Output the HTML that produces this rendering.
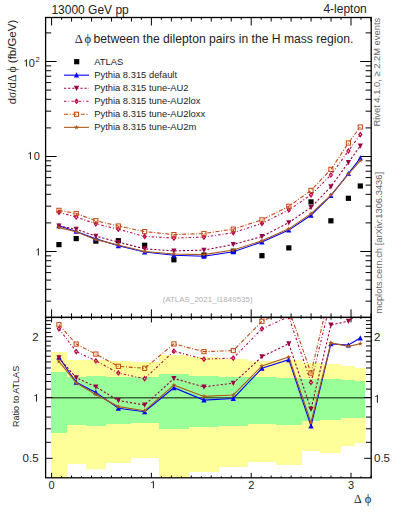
<!DOCTYPE html>
<html><head><meta charset="utf-8"><style>
html,body{margin:0;padding:0;background:#fff;width:393px;height:512px;overflow:hidden}
svg{font-family:"Liberation Sans",sans-serif} text{fill:#222} text.g{fill:#666} text.lg{fill:#b0b0b0}
</style></head><body>
<svg width="393" height="512" viewBox="0 0 393 512" style="position:absolute;left:0;top:0"><defs><clipPath id="cu"><rect x="45.6" y="17.5" width="325.59999999999997" height="299.9"/></clipPath><clipPath id="cr"><rect x="45.6" y="317.4" width="325.59999999999997" height="160.40000000000003"/></clipPath></defs><g clip-path="url(#cr)" shape-rendering="crispEdges"><rect x="51.20" y="352.20" width="15.50" height="137.80" fill="#ffff9a"/><rect x="66.70" y="359.80" width="19.00" height="103.80" fill="#ffff9a"/><rect x="85.70" y="359.80" width="20.30" height="109.10" fill="#ffff9a"/><rect x="106.00" y="360.60" width="24.70" height="101.90" fill="#ffff9a"/><rect x="130.70" y="362.00" width="27.90" height="95.90" fill="#ffff9a"/><rect x="158.60" y="355.30" width="30.60" height="134.70" fill="#ffff9a"/><rect x="189.20" y="357.30" width="29.50" height="114.70" fill="#ffff9a"/><rect x="218.70" y="358.70" width="29.20" height="108.40" fill="#ffff9a"/><rect x="247.90" y="361.20" width="28.10" height="100.90" fill="#ffff9a"/><rect x="276.00" y="360.40" width="25.60" height="104.80" fill="#ffff9a"/><rect x="301.60" y="363.40" width="18.80" height="87.60" fill="#ffff9a"/><rect x="320.40" y="364.00" width="21.00" height="88.70" fill="#ffff9a"/><rect x="341.40" y="366.40" width="14.00" height="79.20" fill="#ffff9a"/><rect x="355.40" y="368.00" width="9.80" height="74.50" fill="#ffff9a"/><rect x="51.20" y="372.00" width="15.50" height="61.40" fill="#99ff99"/><rect x="66.70" y="377.00" width="19.00" height="47.90" fill="#99ff99"/><rect x="85.70" y="376.30" width="20.30" height="49.70" fill="#99ff99"/><rect x="106.00" y="377.30" width="24.70" height="46.70" fill="#99ff99"/><rect x="130.70" y="377.30" width="27.90" height="45.70" fill="#99ff99"/><rect x="158.60" y="374.20" width="30.60" height="55.00" fill="#99ff99"/><rect x="189.20" y="375.60" width="29.50" height="51.60" fill="#99ff99"/><rect x="218.70" y="376.70" width="29.20" height="49.00" fill="#99ff99"/><rect x="247.90" y="376.70" width="28.10" height="47.40" fill="#99ff99"/><rect x="276.00" y="377.70" width="25.60" height="47.00" fill="#99ff99"/><rect x="301.60" y="379.00" width="18.80" height="41.80" fill="#99ff99"/><rect x="320.40" y="379.30" width="21.00" height="40.50" fill="#99ff99"/><rect x="341.40" y="380.40" width="14.00" height="37.90" fill="#99ff99"/><rect x="355.40" y="381.10" width="9.80" height="36.40" fill="#99ff99"/></g><line x1="45.6" y1="397.8" x2="371.2" y2="397.8" stroke="#000" stroke-opacity="0.6" stroke-width="1.4"/><path d="M51.60,17.50L51.60,25.50M51.60,317.40L51.60,309.40M51.60,317.40L51.60,322.40M51.60,477.80L51.60,472.80M61.58,17.50L61.58,19.80M61.58,317.40L61.58,315.10M61.58,317.40L61.58,318.90M61.58,477.80L61.58,476.30M71.56,17.50L71.56,21.50M71.56,317.40L71.56,313.40M71.56,317.40L71.56,319.70M71.56,477.80L71.56,475.50M81.54,17.50L81.54,19.80M81.54,317.40L81.54,315.10M81.54,317.40L81.54,318.90M81.54,477.80L81.54,476.30M91.52,17.50L91.52,21.50M91.52,317.40L91.52,313.40M91.52,317.40L91.52,319.70M91.52,477.80L91.52,475.50M101.50,17.50L101.50,19.80M101.50,317.40L101.50,315.10M101.50,317.40L101.50,318.90M101.50,477.80L101.50,476.30M111.48,17.50L111.48,21.50M111.48,317.40L111.48,313.40M111.48,317.40L111.48,319.70M111.48,477.80L111.48,475.50M121.46,17.50L121.46,19.80M121.46,317.40L121.46,315.10M121.46,317.40L121.46,318.90M121.46,477.80L121.46,476.30M131.44,17.50L131.44,21.50M131.44,317.40L131.44,313.40M131.44,317.40L131.44,319.70M131.44,477.80L131.44,475.50M141.42,17.50L141.42,19.80M141.42,317.40L141.42,315.10M141.42,317.40L141.42,318.90M141.42,477.80L141.42,476.30M151.40,17.50L151.40,25.50M151.40,317.40L151.40,309.40M151.40,317.40L151.40,322.40M151.40,477.80L151.40,472.80M161.38,17.50L161.38,19.80M161.38,317.40L161.38,315.10M161.38,317.40L161.38,318.90M161.38,477.80L161.38,476.30M171.36,17.50L171.36,21.50M171.36,317.40L171.36,313.40M171.36,317.40L171.36,319.70M171.36,477.80L171.36,475.50M181.34,17.50L181.34,19.80M181.34,317.40L181.34,315.10M181.34,317.40L181.34,318.90M181.34,477.80L181.34,476.30M191.32,17.50L191.32,21.50M191.32,317.40L191.32,313.40M191.32,317.40L191.32,319.70M191.32,477.80L191.32,475.50M201.30,17.50L201.30,19.80M201.30,317.40L201.30,315.10M201.30,317.40L201.30,318.90M201.30,477.80L201.30,476.30M211.28,17.50L211.28,21.50M211.28,317.40L211.28,313.40M211.28,317.40L211.28,319.70M211.28,477.80L211.28,475.50M221.26,17.50L221.26,19.80M221.26,317.40L221.26,315.10M221.26,317.40L221.26,318.90M221.26,477.80L221.26,476.30M231.24,17.50L231.24,21.50M231.24,317.40L231.24,313.40M231.24,317.40L231.24,319.70M231.24,477.80L231.24,475.50M241.22,17.50L241.22,19.80M241.22,317.40L241.22,315.10M241.22,317.40L241.22,318.90M241.22,477.80L241.22,476.30M251.20,17.50L251.20,25.50M251.20,317.40L251.20,309.40M251.20,317.40L251.20,322.40M251.20,477.80L251.20,472.80M261.18,17.50L261.18,19.80M261.18,317.40L261.18,315.10M261.18,317.40L261.18,318.90M261.18,477.80L261.18,476.30M271.16,17.50L271.16,21.50M271.16,317.40L271.16,313.40M271.16,317.40L271.16,319.70M271.16,477.80L271.16,475.50M281.14,17.50L281.14,19.80M281.14,317.40L281.14,315.10M281.14,317.40L281.14,318.90M281.14,477.80L281.14,476.30M291.12,17.50L291.12,21.50M291.12,317.40L291.12,313.40M291.12,317.40L291.12,319.70M291.12,477.80L291.12,475.50M301.10,17.50L301.10,19.80M301.10,317.40L301.10,315.10M301.10,317.40L301.10,318.90M301.10,477.80L301.10,476.30M311.08,17.50L311.08,21.50M311.08,317.40L311.08,313.40M311.08,317.40L311.08,319.70M311.08,477.80L311.08,475.50M321.06,17.50L321.06,19.80M321.06,317.40L321.06,315.10M321.06,317.40L321.06,318.90M321.06,477.80L321.06,476.30M331.04,17.50L331.04,21.50M331.04,317.40L331.04,313.40M331.04,317.40L331.04,319.70M331.04,477.80L331.04,475.50M341.02,17.50L341.02,19.80M341.02,317.40L341.02,315.10M341.02,317.40L341.02,318.90M341.02,477.80L341.02,476.30M351.00,17.50L351.00,25.50M351.00,317.40L351.00,309.40M351.00,317.40L351.00,322.40M351.00,477.80L351.00,472.80M360.98,17.50L360.98,19.80M360.98,317.40L360.98,315.10M360.98,317.40L360.98,318.90M360.98,477.80L360.98,476.30M370.96,17.50L370.96,21.50M370.96,317.40L370.96,313.40M370.96,317.40L370.96,319.70M370.96,477.80L370.96,475.50M45.60,301.17L51.20,301.17M371.20,301.17L365.60,301.17M45.60,289.30L51.20,289.30M371.20,289.30L365.60,289.30M45.60,280.10L51.20,280.10M371.20,280.10L365.60,280.10M45.60,272.58L51.20,272.58M371.20,272.58L365.60,272.58M45.60,266.22L51.20,266.22M371.20,266.22L365.60,266.22M45.60,260.71L51.20,260.71M371.20,260.71L365.60,260.71M45.60,255.85L51.20,255.85M371.20,255.85L365.60,255.85M45.60,251.50L56.60,251.50M371.20,251.50L360.20,251.50M45.60,222.90L51.20,222.90M371.20,222.90L365.60,222.90M45.60,206.17L51.20,206.17M371.20,206.17L365.60,206.17M45.60,194.30L51.20,194.30M371.20,194.30L365.60,194.30M45.60,185.10L51.20,185.10M371.20,185.10L365.60,185.10M45.60,177.58L51.20,177.58M371.20,177.58L365.60,177.58M45.60,171.22L51.20,171.22M371.20,171.22L365.60,171.22M45.60,165.71L51.20,165.71M371.20,165.71L365.60,165.71M45.60,160.85L51.20,160.85M371.20,160.85L365.60,160.85M45.60,156.50L56.60,156.50M371.20,156.50L360.20,156.50M45.60,127.90L51.20,127.90M371.20,127.90L365.60,127.90M45.60,111.17L51.20,111.17M371.20,111.17L365.60,111.17M45.60,99.30L51.20,99.30M371.20,99.30L365.60,99.30M45.60,90.10L51.20,90.10M371.20,90.10L365.60,90.10M45.60,82.58L51.20,82.58M371.20,82.58L365.60,82.58M45.60,76.22L51.20,76.22M371.20,76.22L365.60,76.22M45.60,70.71L51.20,70.71M371.20,70.71L365.60,70.71M45.60,65.85L51.20,65.85M371.20,65.85L365.60,65.85M45.60,61.50L56.60,61.50M371.20,61.50L360.20,61.50M45.60,32.90L51.20,32.90M371.20,32.90L365.60,32.90M45.60,458.31L52.60,458.31M371.20,458.31L364.20,458.31M45.60,442.31L50.90,442.31M371.20,442.31L365.90,442.31M45.60,428.79L50.90,428.79M371.20,428.79L365.90,428.79M45.60,417.08L50.90,417.08M371.20,417.08L365.90,417.08M45.60,406.74L50.90,406.74M371.20,406.74L365.90,406.74M45.60,397.50L52.60,397.50M371.20,397.50L364.20,397.50M45.60,389.14L50.90,389.14M371.20,389.14L365.90,389.14M45.60,381.51L50.90,381.51M371.20,381.51L365.90,381.51M45.60,374.48L50.90,374.48M371.20,374.48L365.90,374.48M45.60,367.98L50.90,367.98M371.20,367.98L365.90,367.98M45.60,361.93L50.90,361.93M371.20,361.93L365.90,361.93M45.60,356.27L50.90,356.27M371.20,356.27L365.90,356.27M45.60,350.95L50.90,350.95M371.20,350.95L365.90,350.95M45.60,345.93L50.90,345.93M371.20,345.93L365.90,345.93M45.60,341.19L50.90,341.19M371.20,341.19L365.90,341.19M45.60,336.69L52.60,336.69M371.20,336.69L364.20,336.69M45.60,332.41L50.90,332.41M371.20,332.41L365.90,332.41M45.60,328.33L50.90,328.33M371.20,328.33L365.90,328.33M45.60,324.43L50.90,324.43M371.20,324.43L365.90,324.43M45.60,320.70L50.90,320.70M371.20,320.70L365.90,320.70" stroke="#000" stroke-width="1" fill="none"/><g clip-path="url(#cu)"><rect x="56.35" y="242.00" width="5.2" height="5.2" fill="#000"/><rect x="73.60" y="236.00" width="5.2" height="5.2" fill="#000"/><rect x="93.25" y="238.50" width="5.2" height="5.2" fill="#000"/><rect x="115.75" y="238.10" width="5.2" height="5.2" fill="#000"/><rect x="142.05" y="242.70" width="5.2" height="5.2" fill="#000"/><rect x="171.30" y="257.20" width="5.2" height="5.2" fill="#000"/><rect x="201.35" y="252.50" width="5.2" height="5.2" fill="#000"/><rect x="230.70" y="248.60" width="5.2" height="5.2" fill="#000"/><rect x="259.35" y="253.10" width="5.2" height="5.2" fill="#000"/><rect x="286.20" y="245.30" width="5.2" height="5.2" fill="#000"/><rect x="308.40" y="199.30" width="5.2" height="5.2" fill="#000"/><rect x="328.30" y="218.20" width="5.2" height="5.2" fill="#000"/><rect x="345.80" y="195.70" width="5.2" height="5.2" fill="#000"/><rect x="357.70" y="183.40" width="5.2" height="5.2" fill="#000"/><path d="M58.95,225.69L76.20,231.40L95.85,238.70L118.35,245.73L144.65,251.98L173.90,255.19L203.95,256.32L233.30,251.67L261.95,241.97L288.80,230.12L311.00,215.30L330.90,195.59L348.40,173.61L360.30,158.06" fill="none" stroke="#0000ff" stroke-width="1.1" stroke-dasharray="none"/><path d="M58.95,222.83L61.55,228.16L56.35,228.16Z" fill="#0000ff"/><path d="M76.20,228.54L78.80,233.87L73.60,233.87Z" fill="#0000ff"/><path d="M95.85,235.84L98.45,241.17L93.25,241.17Z" fill="#0000ff"/><path d="M118.35,242.87L120.95,248.20L115.75,248.20Z" fill="#0000ff"/><path d="M144.65,249.12L147.25,254.45L142.05,254.45Z" fill="#0000ff"/><path d="M173.90,252.33L176.50,257.66L171.30,257.66Z" fill="#0000ff"/><path d="M203.95,253.46L206.55,258.79L201.35,258.79Z" fill="#0000ff"/><path d="M233.30,248.81L235.90,254.14L230.70,254.14Z" fill="#0000ff"/><path d="M261.95,239.11L264.55,244.44L259.35,244.44Z" fill="#0000ff"/><path d="M288.80,227.26L291.40,232.59L286.20,232.59Z" fill="#0000ff"/><path d="M311.00,212.44L313.60,217.77L308.40,217.77Z" fill="#0000ff"/><path d="M330.90,192.73L333.50,198.06L328.30,198.06Z" fill="#0000ff"/><path d="M348.40,170.75L351.00,176.08L345.80,176.08Z" fill="#0000ff"/><path d="M360.30,155.20L362.90,160.53L357.70,160.53Z" fill="#0000ff"/><path d="M58.95,225.88L76.20,229.29L95.85,236.11L118.35,242.11L144.65,248.83L173.90,250.86L203.95,250.11L233.30,244.47L261.95,236.51L288.80,222.60L311.00,207.40L330.90,186.70L348.40,162.42L360.30,146.00" fill="none" stroke="#990044" stroke-width="1.1" stroke-dasharray="2.2,1.9"/><path d="M58.95,228.74L61.55,223.41L56.35,223.41Z" fill="#990044"/><path d="M76.20,232.15L78.80,226.82L73.60,226.82Z" fill="#990044"/><path d="M95.85,238.97L98.45,233.64L93.25,233.64Z" fill="#990044"/><path d="M118.35,244.97L120.95,239.64L115.75,239.64Z" fill="#990044"/><path d="M144.65,251.69L147.25,246.36L142.05,246.36Z" fill="#990044"/><path d="M173.90,253.72L176.50,248.39L171.30,248.39Z" fill="#990044"/><path d="M203.95,252.97L206.55,247.64L201.35,247.64Z" fill="#990044"/><path d="M233.30,247.33L235.90,242.00L230.70,242.00Z" fill="#990044"/><path d="M261.95,239.37L264.55,234.04L259.35,234.04Z" fill="#990044"/><path d="M288.80,225.46L291.40,220.13L286.20,220.13Z" fill="#990044"/><path d="M311.00,210.26L313.60,204.93L308.40,204.93Z" fill="#990044"/><path d="M330.90,189.56L333.50,184.23L328.30,184.23Z" fill="#990044"/><path d="M348.40,165.28L351.00,159.95L345.80,159.95Z" fill="#990044"/><path d="M360.30,148.86L362.90,143.53L357.70,143.53Z" fill="#990044"/><path d="M58.95,212.29L76.20,217.01L95.85,223.84L118.35,229.18L144.65,236.46L173.90,238.03L203.95,237.09L233.30,232.67L261.95,223.39L288.80,209.90L311.00,194.85L330.90,175.00L348.40,151.00L360.30,134.60" fill="none" stroke="#bb0848" stroke-width="1.1" stroke-dasharray="2.4,2,0.9,2.1"/><path d="M58.95,210.24L60.45,212.29L58.95,214.34L57.45,212.29Z" fill="none" stroke="#bb0848" stroke-width="1.25"/><path d="M76.20,214.96L77.70,217.01L76.20,219.06L74.70,217.01Z" fill="none" stroke="#bb0848" stroke-width="1.25"/><path d="M95.85,221.79L97.35,223.84L95.85,225.89L94.35,223.84Z" fill="none" stroke="#bb0848" stroke-width="1.25"/><path d="M118.35,227.13L119.85,229.18L118.35,231.23L116.85,229.18Z" fill="none" stroke="#bb0848" stroke-width="1.25"/><path d="M144.65,234.41L146.15,236.46L144.65,238.51L143.15,236.46Z" fill="none" stroke="#bb0848" stroke-width="1.25"/><path d="M173.90,235.98L175.40,238.03L173.90,240.08L172.40,238.03Z" fill="none" stroke="#bb0848" stroke-width="1.25"/><path d="M203.95,235.04L205.45,237.09L203.95,239.14L202.45,237.09Z" fill="none" stroke="#bb0848" stroke-width="1.25"/><path d="M233.30,230.62L234.80,232.67L233.30,234.72L231.80,232.67Z" fill="none" stroke="#bb0848" stroke-width="1.25"/><path d="M261.95,221.34L263.45,223.39L261.95,225.44L260.45,223.39Z" fill="none" stroke="#bb0848" stroke-width="1.25"/><path d="M288.80,207.85L290.30,209.90L288.80,211.95L287.30,209.90Z" fill="none" stroke="#bb0848" stroke-width="1.25"/><path d="M311.00,192.80L312.50,194.85L311.00,196.90L309.50,194.85Z" fill="none" stroke="#bb0848" stroke-width="1.25"/><path d="M330.90,172.95L332.40,175.00L330.90,177.05L329.40,175.00Z" fill="none" stroke="#bb0848" stroke-width="1.25"/><path d="M348.40,148.95L349.90,151.00L348.40,153.05L346.90,151.00Z" fill="none" stroke="#bb0848" stroke-width="1.25"/><path d="M360.30,132.55L361.80,134.60L360.30,136.65L358.80,134.60Z" fill="none" stroke="#bb0848" stroke-width="1.25"/><path d="M58.95,210.36L76.20,213.49L95.85,220.69L118.35,226.03L144.65,231.57L173.90,234.59L203.95,233.51L233.30,229.14L261.95,219.86L288.80,206.30L311.00,190.42L330.90,169.40L348.40,143.00L360.30,127.00" fill="none" stroke="#c44a12" stroke-width="1.1" stroke-dasharray="4,1.7,1,1.7"/><rect x="56.85" y="208.26" width="4.20" height="4.20" fill="none" stroke="#c44a12" stroke-width="1"/><rect x="74.10" y="211.39" width="4.20" height="4.20" fill="none" stroke="#c44a12" stroke-width="1"/><rect x="93.75" y="218.59" width="4.20" height="4.20" fill="none" stroke="#c44a12" stroke-width="1"/><rect x="116.25" y="223.93" width="4.20" height="4.20" fill="none" stroke="#c44a12" stroke-width="1"/><rect x="142.55" y="229.47" width="4.20" height="4.20" fill="none" stroke="#c44a12" stroke-width="1"/><rect x="171.80" y="232.49" width="4.20" height="4.20" fill="none" stroke="#c44a12" stroke-width="1"/><rect x="201.85" y="231.41" width="4.20" height="4.20" fill="none" stroke="#c44a12" stroke-width="1"/><rect x="231.20" y="227.04" width="4.20" height="4.20" fill="none" stroke="#c44a12" stroke-width="1"/><rect x="259.85" y="217.76" width="4.20" height="4.20" fill="none" stroke="#c44a12" stroke-width="1"/><rect x="286.70" y="204.20" width="4.20" height="4.20" fill="none" stroke="#c44a12" stroke-width="1"/><rect x="308.90" y="188.32" width="4.20" height="4.20" fill="none" stroke="#c44a12" stroke-width="1"/><rect x="328.80" y="167.30" width="4.20" height="4.20" fill="none" stroke="#c44a12" stroke-width="1"/><rect x="346.30" y="140.90" width="4.20" height="4.20" fill="none" stroke="#c44a12" stroke-width="1"/><rect x="358.20" y="124.90" width="4.20" height="4.20" fill="none" stroke="#c44a12" stroke-width="1"/><path d="M58.95,227.62L76.20,231.69L95.85,239.64L118.35,244.98L144.65,251.51L173.90,254.02L203.95,254.58L233.30,250.02L261.95,240.84L288.80,228.85L311.00,213.66L330.90,195.12L348.40,174.27L360.30,160.70" fill="none" stroke="#aa5a18" stroke-width="1.1" stroke-dasharray="none"/><path d="M58.95,225.02L59.56,226.78L61.42,226.82L59.94,227.94L60.48,229.73L58.95,228.66L57.42,229.73L57.96,227.94L56.48,226.82L58.34,226.78Z" fill="#aa5a18"/><path d="M76.20,229.09L76.81,230.85L78.67,230.88L77.19,232.01L77.73,233.79L76.20,232.73L74.67,233.79L75.21,232.01L73.73,230.88L75.59,230.85Z" fill="#aa5a18"/><path d="M95.85,237.04L96.46,238.80L98.32,238.84L96.84,239.96L97.38,241.75L95.85,240.68L94.32,241.75L94.86,239.96L93.38,238.84L95.24,238.80Z" fill="#aa5a18"/><path d="M118.35,242.38L118.96,244.14L120.82,244.18L119.34,245.30L119.88,247.08L118.35,246.02L116.82,247.08L117.36,245.30L115.88,244.18L117.74,244.14Z" fill="#aa5a18"/><path d="M144.65,248.91L145.26,250.67L147.12,250.70L145.64,251.83L146.18,253.61L144.65,252.55L143.12,253.61L143.66,251.83L142.18,250.70L144.04,250.67Z" fill="#aa5a18"/><path d="M173.90,251.42L174.51,253.17L176.37,253.21L174.89,254.34L175.43,256.12L173.90,255.06L172.37,256.12L172.91,254.34L171.43,253.21L173.29,253.17Z" fill="#aa5a18"/><path d="M203.95,251.98L204.56,253.74L206.42,253.78L204.94,254.90L205.48,256.69L203.95,255.62L202.42,256.69L202.96,254.90L201.48,253.78L203.34,253.74Z" fill="#aa5a18"/><path d="M233.30,247.42L233.91,249.18L235.77,249.22L234.29,250.35L234.83,252.13L233.30,251.06L231.77,252.13L232.31,250.35L230.83,249.22L232.69,249.18Z" fill="#aa5a18"/><path d="M261.95,238.24L262.56,240.00L264.42,240.04L262.94,241.16L263.48,242.94L261.95,241.88L260.42,242.94L260.96,241.16L259.48,240.04L261.34,240.00Z" fill="#aa5a18"/><path d="M288.80,226.25L289.41,228.01L291.27,228.05L289.79,229.17L290.33,230.96L288.80,229.89L287.27,230.96L287.81,229.17L286.33,228.05L288.19,228.01Z" fill="#aa5a18"/><path d="M311.00,211.06L311.61,212.82L313.47,212.85L311.99,213.98L312.53,215.76L311.00,214.70L309.47,215.76L310.01,213.98L308.53,212.85L310.39,212.82Z" fill="#aa5a18"/><path d="M330.90,192.52L331.51,194.28L333.37,194.32L331.89,195.44L332.43,197.23L330.90,196.16L329.37,197.23L329.91,195.44L328.43,194.32L330.29,194.28Z" fill="#aa5a18"/><path d="M348.40,171.67L349.01,173.43L350.87,173.46L349.39,174.59L349.93,176.37L348.40,175.31L346.87,176.37L347.41,174.59L345.93,173.46L347.79,173.43Z" fill="#aa5a18"/><path d="M360.30,158.10L360.91,159.86L362.77,159.89L361.29,161.02L361.83,162.80L360.30,161.74L358.77,162.80L359.31,161.02L357.83,159.89L359.69,159.86Z" fill="#aa5a18"/></g><g clip-path="url(#cr)"><path d="M58.95,357.30L76.20,382.20L95.85,392.40L118.35,408.20L144.65,411.70L173.90,387.70L203.95,400.10L233.30,398.50L261.95,368.30L288.80,359.70L311.00,426.00L330.90,343.90L348.40,345.00L360.30,338.10" fill="none" stroke="#0000ff" stroke-width="1.1" stroke-dasharray="none"/><path d="M58.95,354.44L61.55,359.77L56.35,359.77Z" fill="#0000ff"/><path d="M76.20,379.34L78.80,384.67L73.60,384.67Z" fill="#0000ff"/><path d="M95.85,389.54L98.45,394.87L93.25,394.87Z" fill="#0000ff"/><path d="M118.35,405.34L120.95,410.67L115.75,410.67Z" fill="#0000ff"/><path d="M144.65,408.84L147.25,414.17L142.05,414.17Z" fill="#0000ff"/><path d="M173.90,384.84L176.50,390.17L171.30,390.17Z" fill="#0000ff"/><path d="M203.95,397.24L206.55,402.57L201.35,402.57Z" fill="#0000ff"/><path d="M233.30,395.64L235.90,400.97L230.70,400.97Z" fill="#0000ff"/><path d="M261.95,365.44L264.55,370.77L259.35,370.77Z" fill="#0000ff"/><path d="M288.80,356.84L291.40,362.17L286.20,362.17Z" fill="#0000ff"/><path d="M311.00,423.14L313.60,428.47L308.40,428.47Z" fill="#0000ff"/><path d="M330.90,341.04L333.50,346.37L328.30,346.37Z" fill="#0000ff"/><path d="M348.40,342.14L351.00,347.47L345.80,347.47Z" fill="#0000ff"/><path d="M360.30,335.24L362.90,340.57L357.70,340.57Z" fill="#0000ff"/><path d="M58.95,357.70L76.20,377.70L95.85,386.90L118.35,400.50L144.65,405.00L173.90,378.50L203.95,386.90L233.30,383.20L261.95,356.70L288.80,343.70L311.00,409.20L330.90,325.00L348.40,321.20L360.30,312.45" fill="none" stroke="#990044" stroke-width="1.1" stroke-dasharray="2.2,1.9"/><path d="M58.95,360.56L61.55,355.23L56.35,355.23Z" fill="#990044"/><path d="M76.20,380.56L78.80,375.23L73.60,375.23Z" fill="#990044"/><path d="M95.85,389.76L98.45,384.43L93.25,384.43Z" fill="#990044"/><path d="M118.35,403.36L120.95,398.03L115.75,398.03Z" fill="#990044"/><path d="M144.65,407.86L147.25,402.53L142.05,402.53Z" fill="#990044"/><path d="M173.90,381.36L176.50,376.03L171.30,376.03Z" fill="#990044"/><path d="M203.95,389.76L206.55,384.43L201.35,384.43Z" fill="#990044"/><path d="M233.30,386.06L235.90,380.73L230.70,380.73Z" fill="#990044"/><path d="M261.95,359.56L264.55,354.23L259.35,354.23Z" fill="#990044"/><path d="M288.80,346.56L291.40,341.23L286.20,341.23Z" fill="#990044"/><path d="M311.00,412.06L313.60,406.73L308.40,406.73Z" fill="#990044"/><path d="M330.90,327.86L333.50,322.53L328.30,322.53Z" fill="#990044"/><path d="M348.40,324.06L351.00,318.73L345.80,318.73Z" fill="#990044"/><path d="M360.30,315.31L362.90,309.98L357.70,309.98Z" fill="#990044"/><path d="M58.95,328.80L76.20,351.60L95.85,360.80L118.35,373.00L144.65,378.70L173.90,351.20L203.95,359.20L233.30,358.10L261.95,328.80L288.80,316.70L311.00,382.50L330.90,300.11L348.40,296.93L360.30,288.21" fill="none" stroke="#bb0848" stroke-width="1.1" stroke-dasharray="2.4,2,0.9,2.1"/><path d="M58.95,326.75L60.45,328.80L58.95,330.85L57.45,328.80Z" fill="none" stroke="#bb0848" stroke-width="1.25"/><path d="M76.20,349.55L77.70,351.60L76.20,353.65L74.70,351.60Z" fill="none" stroke="#bb0848" stroke-width="1.25"/><path d="M95.85,358.75L97.35,360.80L95.85,362.85L94.35,360.80Z" fill="none" stroke="#bb0848" stroke-width="1.25"/><path d="M118.35,370.95L119.85,373.00L118.35,375.05L116.85,373.00Z" fill="none" stroke="#bb0848" stroke-width="1.25"/><path d="M144.65,376.65L146.15,378.70L144.65,380.75L143.15,378.70Z" fill="none" stroke="#bb0848" stroke-width="1.25"/><path d="M173.90,349.15L175.40,351.20L173.90,353.25L172.40,351.20Z" fill="none" stroke="#bb0848" stroke-width="1.25"/><path d="M203.95,357.15L205.45,359.20L203.95,361.25L202.45,359.20Z" fill="none" stroke="#bb0848" stroke-width="1.25"/><path d="M233.30,356.05L234.80,358.10L233.30,360.15L231.80,358.10Z" fill="none" stroke="#bb0848" stroke-width="1.25"/><path d="M261.95,326.75L263.45,328.80L261.95,330.85L260.45,328.80Z" fill="none" stroke="#bb0848" stroke-width="1.25"/><path d="M288.80,314.65L290.30,316.70L288.80,318.75L287.30,316.70Z" fill="none" stroke="#bb0848" stroke-width="1.25"/><path d="M311.00,380.45L312.50,382.50L311.00,384.55L309.50,382.50Z" fill="none" stroke="#bb0848" stroke-width="1.25"/><path d="M330.90,298.06L332.40,300.11L330.90,302.16L329.40,300.11Z" fill="none" stroke="#bb0848" stroke-width="1.25"/><path d="M348.40,294.88L349.90,296.93L348.40,298.98L346.90,296.93Z" fill="none" stroke="#bb0848" stroke-width="1.25"/><path d="M360.30,286.16L361.80,288.21L360.30,290.26L358.80,288.21Z" fill="none" stroke="#bb0848" stroke-width="1.25"/><path d="M58.95,324.70L76.20,344.10L95.85,354.10L118.35,366.30L144.65,368.30L173.90,343.90L203.95,351.60L233.30,350.60L261.95,321.30L288.80,309.05L311.00,373.10L330.90,288.21L348.40,279.91L360.30,272.05" fill="none" stroke="#c44a12" stroke-width="1.1" stroke-dasharray="4,1.7,1,1.7"/><rect x="56.85" y="322.60" width="4.20" height="4.20" fill="none" stroke="#c44a12" stroke-width="1"/><rect x="74.10" y="342.00" width="4.20" height="4.20" fill="none" stroke="#c44a12" stroke-width="1"/><rect x="93.75" y="352.00" width="4.20" height="4.20" fill="none" stroke="#c44a12" stroke-width="1"/><rect x="116.25" y="364.20" width="4.20" height="4.20" fill="none" stroke="#c44a12" stroke-width="1"/><rect x="142.55" y="366.20" width="4.20" height="4.20" fill="none" stroke="#c44a12" stroke-width="1"/><rect x="171.80" y="341.80" width="4.20" height="4.20" fill="none" stroke="#c44a12" stroke-width="1"/><rect x="201.85" y="349.50" width="4.20" height="4.20" fill="none" stroke="#c44a12" stroke-width="1"/><rect x="231.20" y="348.50" width="4.20" height="4.20" fill="none" stroke="#c44a12" stroke-width="1"/><rect x="259.85" y="319.20" width="4.20" height="4.20" fill="none" stroke="#c44a12" stroke-width="1"/><rect x="286.70" y="306.95" width="4.20" height="4.20" fill="none" stroke="#c44a12" stroke-width="1"/><rect x="308.90" y="371.00" width="4.20" height="4.20" fill="none" stroke="#c44a12" stroke-width="1"/><rect x="328.80" y="286.11" width="4.20" height="4.20" fill="none" stroke="#c44a12" stroke-width="1"/><rect x="346.30" y="277.81" width="4.20" height="4.20" fill="none" stroke="#c44a12" stroke-width="1"/><rect x="358.20" y="269.95" width="4.20" height="4.20" fill="none" stroke="#c44a12" stroke-width="1"/><path d="M58.95,361.40L76.20,382.80L95.85,394.40L118.35,406.60L144.65,410.70L173.90,385.20L203.95,396.40L233.30,395.00L261.95,365.90L288.80,357.00L311.00,422.50L330.90,342.90L348.40,346.40L360.30,343.70" fill="none" stroke="#aa5a18" stroke-width="1.1" stroke-dasharray="none"/><path d="M58.95,358.80L59.56,360.56L61.42,360.60L59.94,361.72L60.48,363.50L58.95,362.44L57.42,363.50L57.96,361.72L56.48,360.60L58.34,360.56Z" fill="#aa5a18"/><path d="M76.20,380.20L76.81,381.96L78.67,382.00L77.19,383.12L77.73,384.90L76.20,383.84L74.67,384.90L75.21,383.12L73.73,382.00L75.59,381.96Z" fill="#aa5a18"/><path d="M95.85,391.80L96.46,393.56L98.32,393.60L96.84,394.72L97.38,396.50L95.85,395.44L94.32,396.50L94.86,394.72L93.38,393.60L95.24,393.56Z" fill="#aa5a18"/><path d="M118.35,404.00L118.96,405.76L120.82,405.80L119.34,406.92L119.88,408.70L118.35,407.64L116.82,408.70L117.36,406.92L115.88,405.80L117.74,405.76Z" fill="#aa5a18"/><path d="M144.65,408.10L145.26,409.86L147.12,409.90L145.64,411.02L146.18,412.80L144.65,411.74L143.12,412.80L143.66,411.02L142.18,409.90L144.04,409.86Z" fill="#aa5a18"/><path d="M173.90,382.60L174.51,384.36L176.37,384.40L174.89,385.52L175.43,387.30L173.90,386.24L172.37,387.30L172.91,385.52L171.43,384.40L173.29,384.36Z" fill="#aa5a18"/><path d="M203.95,393.80L204.56,395.56L206.42,395.60L204.94,396.72L205.48,398.50L203.95,397.44L202.42,398.50L202.96,396.72L201.48,395.60L203.34,395.56Z" fill="#aa5a18"/><path d="M233.30,392.40L233.91,394.16L235.77,394.20L234.29,395.32L234.83,397.10L233.30,396.04L231.77,397.10L232.31,395.32L230.83,394.20L232.69,394.16Z" fill="#aa5a18"/><path d="M261.95,363.30L262.56,365.06L264.42,365.10L262.94,366.22L263.48,368.00L261.95,366.94L260.42,368.00L260.96,366.22L259.48,365.10L261.34,365.06Z" fill="#aa5a18"/><path d="M288.80,354.40L289.41,356.16L291.27,356.20L289.79,357.32L290.33,359.10L288.80,358.04L287.27,359.10L287.81,357.32L286.33,356.20L288.19,356.16Z" fill="#aa5a18"/><path d="M311.00,419.90L311.61,421.66L313.47,421.70L311.99,422.82L312.53,424.60L311.00,423.54L309.47,424.60L310.01,422.82L308.53,421.70L310.39,421.66Z" fill="#aa5a18"/><path d="M330.90,340.30L331.51,342.06L333.37,342.10L331.89,343.22L332.43,345.00L330.90,343.94L329.37,345.00L329.91,343.22L328.43,342.10L330.29,342.06Z" fill="#aa5a18"/><path d="M348.40,343.80L349.01,345.56L350.87,345.60L349.39,346.72L349.93,348.50L348.40,347.44L346.87,348.50L347.41,346.72L345.93,345.60L347.79,345.56Z" fill="#aa5a18"/><path d="M360.30,341.10L360.91,342.86L362.77,342.90L361.29,344.02L361.83,345.80L360.30,344.74L358.77,345.80L359.31,344.02L357.83,342.90L359.69,342.86Z" fill="#aa5a18"/></g><rect x="45.6" y="17.5" width="325.60" height="299.90" fill="none" stroke="#000" stroke-width="1.3"/><rect x="45.6" y="317.4" width="325.60" height="160.40" fill="none" stroke="#000" stroke-width="1.3"/><rect x="74.1" y="59.10" width="5.2" height="5.2" fill="#000"/><text x="94.2" y="64.80" font-size="9.4">ATLAS</text><path d="M64,75.15L89,75.15" stroke="#0000ff" stroke-width="1.1" stroke-dasharray="none"/><path d="M76.50,72.29L79.10,77.62L73.90,77.62Z" fill="#0000ff"/><text x="94.2" y="77.85" font-size="9.4">Pythia 8.315 default</text><path d="M64,88.20L89,88.20" stroke="#990044" stroke-width="1.1" stroke-dasharray="2.2,1.9"/><path d="M76.50,91.06L79.10,85.73L73.90,85.73Z" fill="#990044"/><text x="94.2" y="90.90" font-size="9.4">Pythia 8.315 tune-AU2</text><path d="M64,101.25L89,101.25" stroke="#bb0848" stroke-width="1.1" stroke-dasharray="2.4,2,0.9,2.1"/><path d="M76.50,99.20L78.00,101.25L76.50,103.30L75.00,101.25Z" fill="none" stroke="#bb0848" stroke-width="1.25"/><text x="94.2" y="103.95" font-size="9.4">Pythia 8.315 tune-AU2lox</text><path d="M64,114.30L89,114.30" stroke="#c44a12" stroke-width="1.1" stroke-dasharray="4,1.7,1,1.7"/><rect x="74.40" y="112.20" width="4.20" height="4.20" fill="none" stroke="#c44a12" stroke-width="1"/><text x="94.2" y="117.00" font-size="9.4">Pythia 8.315 tune-AU2loxx</text><path d="M64,127.35L89,127.35" stroke="#aa5a18" stroke-width="1.1" stroke-dasharray="none"/><path d="M76.50,124.75L77.11,126.51L78.97,126.55L77.49,127.67L78.03,129.45L76.50,128.39L74.97,129.45L75.51,127.67L74.03,126.55L75.89,126.51Z" fill="#aa5a18"/><text x="94.2" y="130.05" font-size="9.4">Pythia 8.315 tune-AU2m</text><text x="51.4" y="13.8" font-size="12">13000 GeV pp</text><text x="366.8" y="13.2" font-size="12" text-anchor="end">4-lepton</text><text x="74.7" y="43" font-size="12.5" font-family="Liberation Serif">Δ</text><text x="84.6" y="43.2" font-size="12.5" font-family="Liberation Serif">ϕ</text><text x="93.6" y="43.3" font-size="12.15">between the dilepton pairs in the H mass region.</text><text x="207.6" y="302.2" font-size="8" class="lg" text-anchor="middle">(ATLAS_2021_I1849535)</text><path d="M30.45,159.35V152.15" stroke="#222" stroke-width="1.05" fill="none"/><path d="M30.45,152.40Q29.55,153.50 28.45,153.70" stroke="#222" stroke-width="0.95" fill="none"/><text x="33.7" y="160.0" font-size="11">0</text><path d="M38.35,255.45V248.45" stroke="#222" stroke-width="1.05" fill="none"/><path d="M38.35,248.70Q37.45,249.80 36.50,250.00" stroke="#222" stroke-width="0.95" fill="none"/><path d="M26.40,66.45V59.55" stroke="#222" stroke-width="1.05" fill="none"/><path d="M26.40,59.80Q25.50,60.90 24.40,61.10" stroke="#222" stroke-width="0.95" fill="none"/><text x="28.7" y="66.9" font-size="11">0</text><text x="35.4" y="61.6" font-size="7.5">2</text><text x="38.6" y="340.69" font-size="11.5" text-anchor="end">2</text><text x="374" y="340.69" font-size="11.5">2</text><text x="38.6" y="462.31" font-size="11.5" text-anchor="end">0.5</text><text x="374" y="462.31" font-size="11.5">0.5</text><path d="M36.50,401.65V394.25" stroke="#222" stroke-width="1.05" fill="none"/><path d="M36.50,394.50Q35.60,395.60 34.30,395.80" stroke="#222" stroke-width="0.95" fill="none"/><path d="M377.40,402.65V395.05" stroke="#222" stroke-width="1.05" fill="none"/><path d="M377.40,395.30Q376.50,396.40 375.30,396.60" stroke="#222" stroke-width="0.95" fill="none"/><text x="51.60" y="488.5" font-size="11" text-anchor="middle">0</text><text x="251.20" y="488.5" font-size="11" text-anchor="middle">2</text><text x="351.00" y="488.5" font-size="11" text-anchor="middle">3</text><path d="M153.40,488.35V481.15" stroke="#222" stroke-width="1.05" fill="none"/><path d="M153.40,481.40Q152.50,482.50 151.30,482.70" stroke="#222" stroke-width="0.95" fill="none"/><text x="353.9" y="503" font-size="12" font-family="Liberation Serif">Δ</text><text x="364.8" y="503.2" font-size="12.5" font-family="Liberation Serif">ϕ</text><text transform="translate(15.5,104.3) rotate(-90)" font-size="11.5">d<tspan font-family="Liberation Serif">σ</tspan>/d<tspan font-family="Liberation Serif">Δ ϕ</tspan> (fb/GeV)</text><text transform="translate(18.9,427) rotate(-90)" font-size="9.05">Ratio to ATLAS</text><text transform="translate(379.7,126.6) rotate(-90)" font-size="9.4" class="g">Rivet 4.1.0, ≥ 2.2M events</text><text transform="translate(381.6,313.6) rotate(-90)" font-size="9.4" class="g">mcplots.cern.ch [arXiv:1306.3436]</text></svg>
</body></html>
